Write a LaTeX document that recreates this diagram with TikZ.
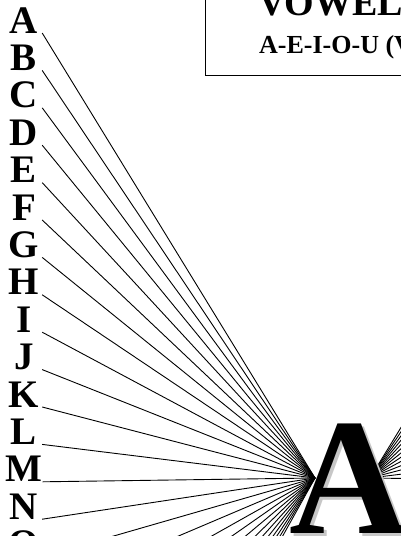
\documentclass[tikz,border=0pt]{standalone}
\usepackage{fontspec}
\setmainfont{Liberation Serif}
\usetikzlibrary{positioning}

\begin{document}
\begin{tikzpicture}[x=1pt, y=-1pt,
  ltr/.style={font=\fontsize{39}{39}\selectfont\bfseries,
    inner sep=0pt, minimum width=36pt, anchor=base},
  ray/.style={draw=black, line width=0.9pt},
  bigA/.style={font=\fontsize{166}{166}\selectfont\bfseries,
    inner sep=0pt, anchor=base west},
  ttl/.style={font=\fontsize{38}{38}\selectfont\bfseries,
    inner sep=0pt, anchor=base west},
  sub/.style={font=\fontsize{26}{26}\selectfont\bfseries,
    inner sep=0pt, anchor=base west},
]
\clip (0,0) rectangle (401,536);

%% TITLE BOX
\draw[line width=0.8pt] (205,-20) rectangle (440,75.5);
\node[ttl] (title) at (258,15) {VOWEL};
\node[sub] (vow) at (259,53) {A-E-I-O-U (V};

%% LETTERS
\foreach \l [count=\k from 0] in {A,B,C,D,E,F,G,H,I,J,K,L,M,N,O} {
  \node[ltr] (l\k) at (24,33+37.4*\k) {\l};
  \coordinate (s\k) at (l\k.base east);
}
\foreach \k in {15,...,25}
  \coordinate (s\k) at (42,33+37.4*\k);

%% RAYS
\coordinate (tipL) at (315,478);
\coordinate (tipR) at (370,478);
\foreach \k in {0,...,25}
  \draw[ray] (s\k) -- (tipL);
\foreach \k in {0,...,12} {
  \coordinate (r\k) at (643,33+37.4*\k);
  \draw[ray] (tipR) -- (r\k);
}

%% BIG A
\node[bigA, text=black!22] (Ash) at (292.5,536.5) {A};
\node[bigA] (A) at (289,533) {A};

\end{tikzpicture}
\end{document}
